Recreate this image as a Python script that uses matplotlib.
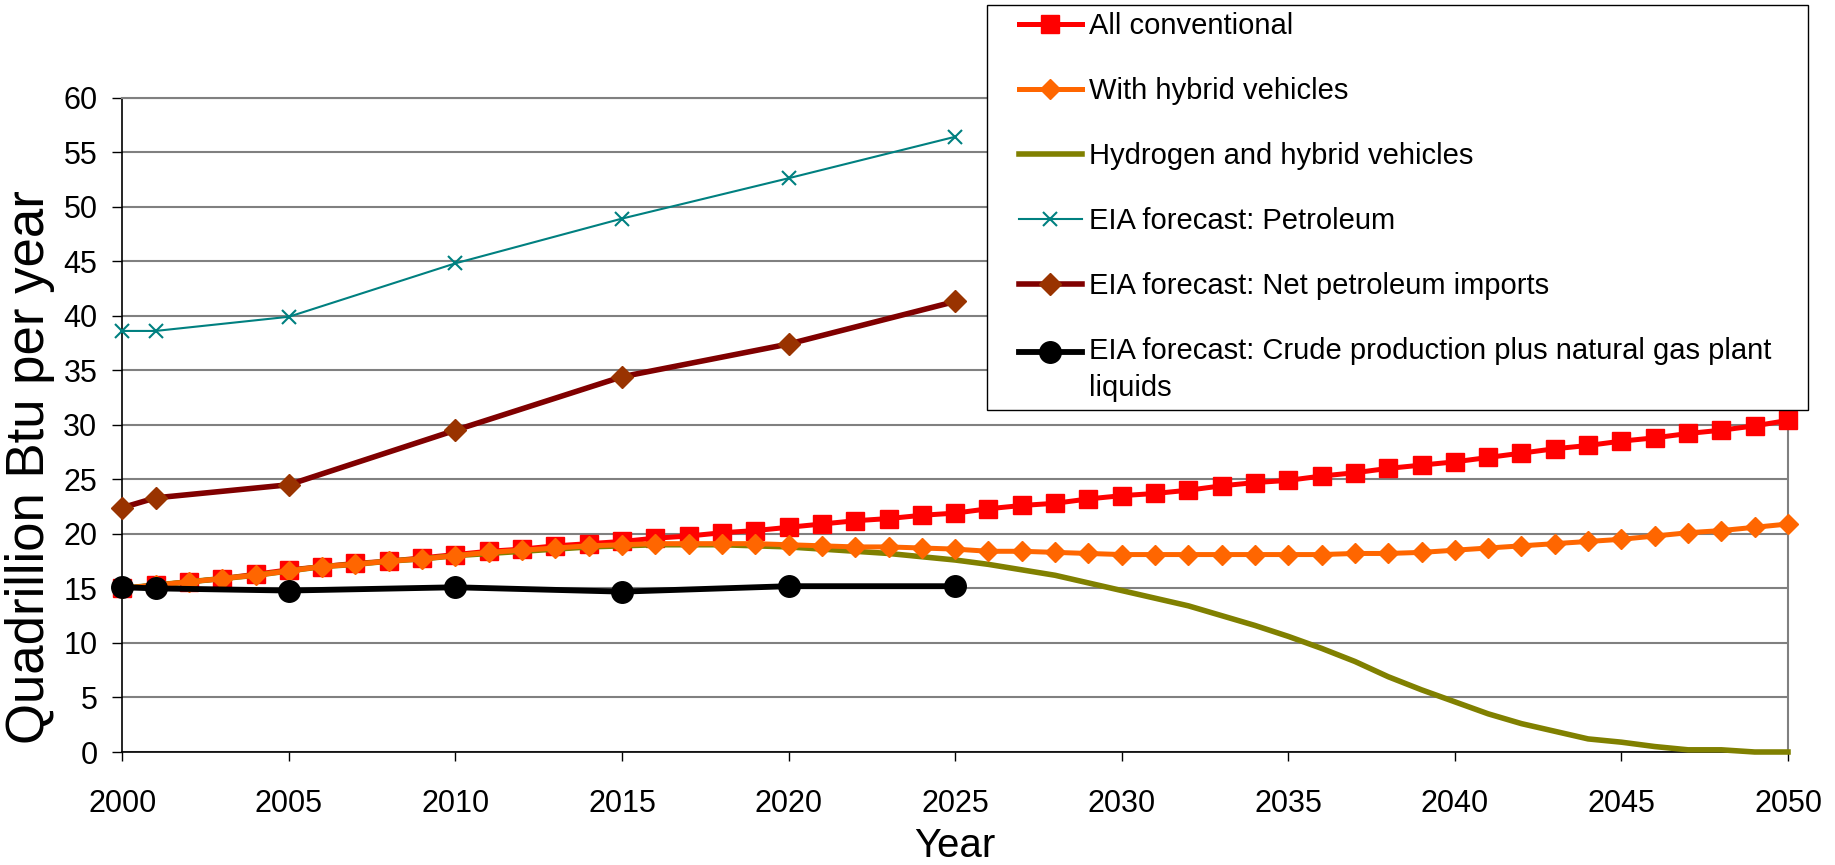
import numpy as np
import matplotlib
matplotlib.use("Agg")
import matplotlib.pyplot as plt
from matplotlib.lines import Line2D
from matplotlib.legend_handler import HandlerLine2D

plt.rcParams['font.family'] = ['Liberation Sans', 'DejaVu Sans']

# Annual scenarios, 2000-2050 (quadrillion Btu per year)
years = list(range(2000, 2051))
all_conventional = [15.0, 15.3, 15.6, 15.9, 16.3, 16.7, 17.0, 17.3, 17.5, 17.8,
                    18.1, 18.4, 18.6, 18.9, 19.1, 19.3, 19.6, 19.8, 20.1, 20.3,
                    20.6, 20.9, 21.2, 21.4, 21.7, 21.9, 22.3, 22.6, 22.8, 23.2,
                    23.5, 23.7, 24.0, 24.4, 24.7, 24.9, 25.3, 25.6, 26.0, 26.3,
                    26.6, 27.0, 27.4, 27.8, 28.1, 28.5, 28.8, 29.2, 29.5, 29.9,
                    30.4]
with_hybrid = [15.0, 15.3, 15.6, 15.9, 16.2, 16.6, 17.0, 17.2, 17.5, 17.7,
               18.0, 18.3, 18.5, 18.7, 18.9, 19.0, 19.1, 19.1, 19.1, 19.1,
               19.0, 18.9, 18.8, 18.8, 18.7, 18.6, 18.4, 18.4, 18.3, 18.2,
               18.1, 18.1, 18.1, 18.1, 18.1, 18.1, 18.1, 18.2, 18.2, 18.3,
               18.5, 18.7, 18.9, 19.1, 19.3, 19.5, 19.8, 20.1, 20.3, 20.6,
               20.9]
hydrogen_hybrid = [15.0, 15.3, 15.6, 15.9, 16.2, 16.6, 17.0, 17.2, 17.5, 17.7,
                   18.0, 18.2, 18.4, 18.6, 18.8, 18.9, 19.0, 19.0, 19.0, 18.9,
                   18.8, 18.6, 18.4, 18.2, 17.9, 17.6, 17.2, 16.7, 16.2, 15.5,
                   14.8, 14.1, 13.4, 12.5, 11.6, 10.6, 9.5, 8.3, 6.9, 5.7,
                   4.6, 3.5, 2.6, 1.9, 1.2, 0.9, 0.5, 0.2, 0.2, 0.0,
                   0.0]

# EIA forecast points
eia_years = [2000, 2001, 2005, 2010, 2015, 2020, 2025]
eia_petroleum = [38.6, 38.6, 39.9, 44.8, 48.9, 52.6, 56.4]
eia_net_imports = [22.4, 23.3, 24.5, 29.5, 34.4, 37.4, 41.3]
eia_crude_ngl = [15.1, 15.0, 14.8, 15.1, 14.7, 15.2, 15.2]

x_ticks = list(range(2000, 2051, 5))
y_ticks = list(range(0, 61, 5))


class OffsetLineHandler(HandlerLine2D):
    """Line handler that can nudge the sample up, e.g. to sit on the first
    line of a two-line label."""

    def __init__(self, dy=0.0, **kw):
        super().__init__(**kw)
        self._dy = dy

    def create_artists(self, legend, orig_handle, xdescent, ydescent, width,
                       height, fontsize, trans):
        artists = super().create_artists(legend, orig_handle, xdescent, ydescent,
                                          width, height, fontsize, trans)
        for a in artists:
            a.set_ydata(np.asarray(a.get_ydata()) + self._dy * fontsize)
        return artists


fig = plt.figure(figsize=(18.35, 8.65), dpi=100)
ax = fig.add_axes([122.3 / 1835, 1 - 752 / 865, (1788 - 122.3) / 1835, (752 - 97.5) / 865])

l_conv, = ax.plot(years, all_conventional, color='#FF0000', lw=3.6, marker='s', ms=12.5,
                  mec='#FF0000', mfc='#FF0000', clip_on=False, zorder=3,
                  label='All conventional')
l_h2, = ax.plot(years, hydrogen_hybrid, color='#808000', lw=4.0, clip_on=False, zorder=3.5,
                label='Hydrogen and hybrid vehicles')
l_hyb, = ax.plot(years, with_hybrid, color='#FF6600', lw=3.6, marker='D', ms=10.5,
                 mec='#FF6600', mfc='#FF6600', clip_on=False, zorder=4,
                 label='With hybrid vehicles')
l_pet, = ax.plot(eia_years, eia_petroleum, color='#008080', lw=1.5, marker='x', ms=10,
                 mew=1.5, clip_on=False, zorder=5, label='EIA forecast: Petroleum')
l_imp, = ax.plot(eia_years, eia_net_imports, color='#800000', lw=4.0, marker='D', ms=11.5,
                 mec='#993300', mfc='#993300', clip_on=False, zorder=5,
                 label='EIA forecast: Net petroleum imports')
l_crude, = ax.plot(eia_years, eia_crude_ngl, color='black', lw=4.2, marker='o', ms=15.5,
                   clip_on=False, zorder=6,
                   label='EIA forecast: Crude production plus natural gas plant\nliquids')

ax.set_xlim(2000, 2050)
ax.set_ylim(0, 60)
ax.set_xticks(x_ticks)
ax.set_yticks(y_ticks)
ax.yaxis.grid(True, color='#808080', lw=1.5)
ax.set_axisbelow(True)
ax.tick_params(axis='x', labelsize=22, length=6.7, width=1, direction='out', pad=20)
ax.tick_params(axis='y', labelsize=22, length=6.9, width=1, direction='out', pad=11)
for s in ('left', 'bottom'):
    ax.spines[s].set_color('black')
    ax.spines[s].set_linewidth(1.2)
for s in ('top', 'right'):
    ax.spines[s].set_color('#808080')
    ax.spines[s].set_linewidth(1.5)

ax.set_xlabel('Year', fontsize=29, va='baseline')
ax.xaxis.set_label_coords(0.5, -0.161)
ax.set_ylabel('Quadrillion Btu per year', fontsize=38, va='baseline', ha='center')
ax.yaxis.set_label_coords(-0.0473, 0.436)

# Legend in the upper right, entries in series order
handles = [l_conv, l_hyb, l_h2, l_pet, l_imp, l_crude]
base = dict(xpad=0.85)
hmap = {h: OffsetLineHandler(**base) for h in handles}
hmap[l_crude] = OffsetLineHandler(dy=0.65, **base)
leg = fig.legend(handles, [h.get_label() for h in handles],
                 loc='upper left',
                 bbox_to_anchor=(987 / 1835, 1 - 5 / 865, (1808 - 987) / 1835, 0),
                 mode='expand', borderaxespad=0, fontsize=21, frameon=True,
                 fancybox=False, edgecolor='black', framealpha=1,
                 borderpad=0.25, labelspacing=1.27, handlelength=3.0,
                 handletextpad=0.25, numpoints=1, handler_map=hmap)
leg.get_frame().set_linewidth(1.0)
leg.get_texts()[-1].set_linespacing(1.4)

fig.savefig('out.png', dpi=100)
